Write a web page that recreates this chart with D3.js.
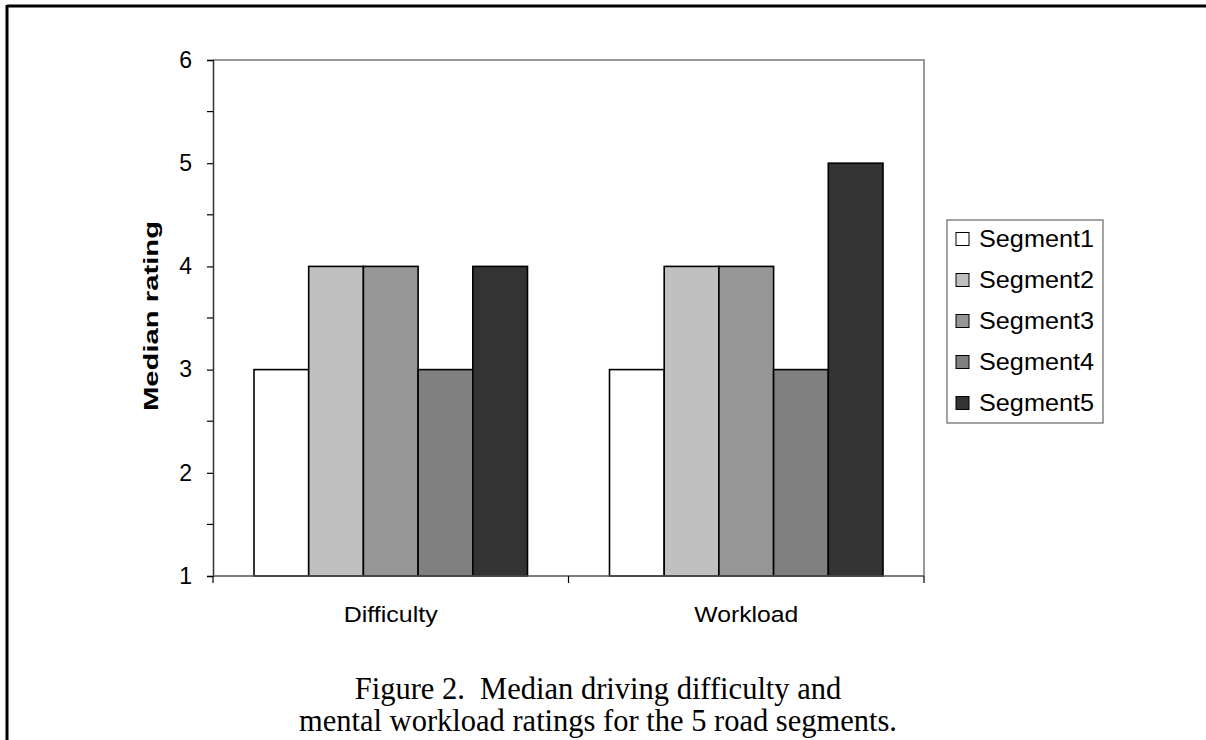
<!DOCTYPE html>
<html>
<head>
<meta charset="utf-8">
<script src="https://cdn.jsdelivr.net/npm/d3@7"></script>
<style>
  html, body { margin: 0; padding: 0; background: #fff; }
  svg { display: block; }
</style>
</head>
<body>
<svg id="chart" width="1206" height="740"></svg>
<script>
// Median ratings per road segment, for each measure
const categories = ["Difficulty", "Workload"];
const segments = ["Segment1", "Segment2", "Segment3", "Segment4", "Segment5"];
const difficulty = [3, 4, 4, 3, 4];
const workload = [3, 4, 4, 3, 5];
const yTicks = [1, 2, 3, 4, 5, 6];
const segmentColors = ["#ffffff", "#c0c0c0", "#969696", "#808080", "#333333"];

const values = [difficulty, workload];
const rows = categories.map((c, i) => ({
  category: c,
  bars: segments.map((s, j) => ({ segment: s, value: values[i][j] }))
}));

const SANS = "Liberation Sans, Arial, sans-serif";
const svg = d3.select("#chart");
const plot = { left: 213, top: 60, right: 924, bottom: 576 };

// page frame (top and left edges)
svg.append("line").attr("x1", 7).attr("y1", 6).attr("x2", 1206).attr("y2", 6)
  .attr("stroke", "#000").attr("stroke-width", 3);
svg.append("line").attr("x1", 7).attr("y1", 5).attr("x2", 7).attr("y2", 740)
  .attr("stroke", "#000").attr("stroke-width", 3);

const x0 = d3.scaleBand().domain(categories).range([plot.left, plot.right]);
const bandPad = 41;
const x1 = d3.scaleBand().domain(segments).range([0, x0.bandwidth() - 2 * bandPad]);
const y = d3.scaleLinear().domain([1, 6]).range([plot.bottom, plot.top]);

// plot area outline: grey top and right edges
svg.append("path")
  .attr("d", `M${plot.left},${plot.top}H${plot.right}V${plot.bottom}`)
  .attr("fill", "none").attr("stroke", "#999").attr("stroke-width", 2);

// bars
const groups = svg.append("g").selectAll("g").data(rows).join("g")
  .attr("transform", d => `translate(${x0(d.category) + bandPad},0)`);
groups.selectAll("rect").data(d => d.bars).join("rect")
  .attr("x", d => x1(d.segment))
  .attr("y", d => y(d.value))
  .attr("width", x1.bandwidth())
  .attr("height", d => y(1) - y(d.value))
  .attr("fill", (d, i) => segmentColors[i])
  .attr("stroke", "#000").attr("stroke-width", 1.6);

// y axis with minor half-step ticks
const yAxis = d3.axisLeft(y).tickValues(yTicks).tickFormat(d3.format("d")).tickSize(6).tickPadding(15);
const yg = svg.append("g").attr("transform", `translate(${plot.left},0)`).call(yAxis);
yg.select(".domain").attr("stroke", "#333").attr("stroke-width", 1.5);
yg.selectAll(".tick line").attr("stroke", "#000").attr("stroke-width", 1.2);
yg.selectAll(".tick text").attr("font-family", SANS)
  .attr("font-size", 23).attr("fill", "#000");
const minor = d3.range(1.5, 6, 1);
svg.append("g").selectAll("line").data(minor).join("line")
  .attr("x1", plot.left - 6).attr("x2", plot.left)
  .attr("y1", d => y(d)).attr("y2", d => y(d))
  .attr("stroke", "#000").attr("stroke-width", 1.2);

// x axis: baseline, boundary ticks, category labels
const xg = svg.append("g").attr("transform", `translate(0,${plot.bottom})`);
xg.append("line").attr("x1", plot.left).attr("x2", plot.right).attr("y1", 0).attr("y2", 0)
  .attr("stroke", "#555").attr("stroke-width", 1.5);
const bounds = [plot.left, x0("Workload"), plot.right];
xg.selectAll("line.b").data(bounds).join("line").attr("class", "b")
  .attr("x1", d => d).attr("x2", d => d).attr("y1", 0).attr("y2", 7)
  .attr("stroke", "#000").attr("stroke-width", 1.2);
const catWidths = { Difficulty: 94, Workload: 104 };
xg.selectAll("text").data(categories).join("text")
  .attr("x", d => x0(d) + x0.bandwidth() / 2 - catWidths[d] / 2)
  .attr("y", 46)
  .attr("font-family", SANS)
  .attr("font-size", 22).attr("fill", "#000")
  .attr("textLength", d => catWidths[d]).attr("lengthAdjust", "spacingAndGlyphs")
  .text(d => d);

// y axis title
svg.append("text")
  .attr("transform", `translate(158,${316 + 95}) rotate(-90)`)
  .attr("font-family", SANS)
  .attr("font-size", 21).attr("font-weight", "bold")
  .attr("textLength", 190).attr("lengthAdjust", "spacingAndGlyphs")
  .text("Median rating");

// legend
const legend = svg.append("g").attr("transform", "translate(947,220)");
legend.append("rect").attr("x", 0).attr("y", 0).attr("width", 156).attr("height", 203)
  .attr("fill", "#fff").attr("stroke", "#666").attr("stroke-width", 1.2);
const items = legend.selectAll("g").data(segments).join("g")
  .attr("transform", (d, i) => `translate(0,${19 + i * 41})`);
items.append("rect").attr("x", 9).attr("y", -6.5).attr("width", 13).attr("height", 13)
  .attr("fill", (d, i) => segmentColors[i]).attr("stroke", "#000").attr("stroke-width", 1);
items.append("text").attr("x", 32).attr("y", 0).attr("dy", "0.36em")
  .attr("font-family", SANS)
  .attr("font-size", 23).attr("fill", "#000")
  .attr("textLength", 115).attr("lengthAdjust", "spacingAndGlyphs")
  .text(d => d);

// caption
const caption = ["Figure 2.\u00a0 Median driving difficulty and",
                 "mental workload ratings for the 5 road segments."];
svg.append("g").selectAll("text").data(caption).join("text")
  .attr("x", 598).attr("y", (d, i) => 699 + i * 32)
  .attr("text-anchor", "middle")
  .attr("font-family", "Liberation Serif, Times New Roman, serif")
  .attr("font-size", 30.5).attr("fill", "#000")
  .text(d => d);
</script>
</body>
</html>
